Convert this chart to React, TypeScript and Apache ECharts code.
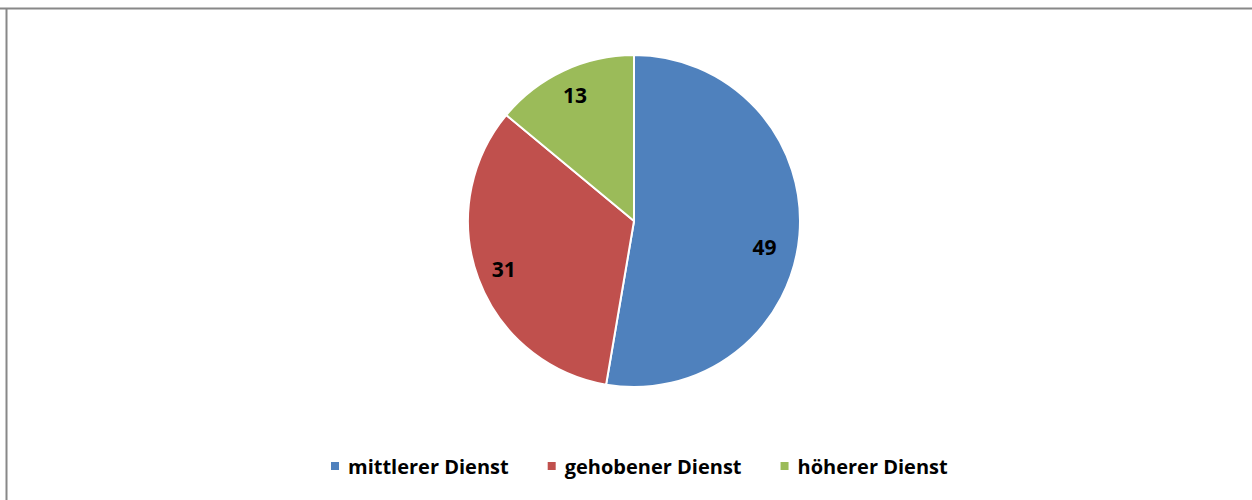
import React, { useEffect, useRef } from "react";
import * as echarts from "echarts";

const categories = ["mittlerer Dienst", "gehobener Dienst", "höherer Dienst"];
const values = [49, 31, 13];
const colors = ["#4F81BD", "#C0504D", "#9BBB59"];

export default function App() {
  const ref = useRef<HTMLDivElement>(null);
  useEffect(() => {
    const chart = echarts.init(ref.current!, null, { renderer: "svg" });
    const data = categories.map((name, i) => ({
      name,
      value: values[i],
      itemStyle: { color: colors[i] },
    }));
    const font = "'Open Sans', 'DejaVu Sans', sans-serif";
    chart.setOption({
      animation: false,
      backgroundColor: "#ffffff",
      legend: {
        data: categories,
        left: 324,
        top: 451,
        icon: "rect",
        itemWidth: 10,
        itemHeight: 10,
        itemGap: 37,
        selectedMode: false,
        textStyle: {
          fontFamily: font,
          fontWeight: "bold",
          fontSize: 20,
          color: "#000",
          padding: [0, 0, 0, 3],
        },
      },
      graphic: [
        {
          type: "line",
          shape: { x1: 0, y1: 8.5, x2: 1252, y2: 8.5 },
          style: { stroke: "#888", lineWidth: 2 },
          silent: true,
        },
        {
          type: "line",
          shape: { x1: 6.5, y1: 8, x2: 6.5, y2: 500 },
          style: { stroke: "#888", lineWidth: 2 },
          silent: true,
        },
      ],
      series: [
        {
          type: "pie",
          center: [634, 221],
          radius: [0, 166],
          startAngle: 90,
          clockwise: true,
          label: { show: false },
          labelLine: { show: false },
          itemStyle: { borderColor: "#fff", borderWidth: 2 },
          emphasis: { disabled: true },
          data,
        },
        {
          type: "pie",
          center: [634, 221],
          radius: [106, 166],
          startAngle: 90,
          clockwise: true,
          silent: true,
          itemStyle: { color: "transparent", borderWidth: 0 },
          label: {
            show: true,
            position: "inside",
            formatter: "{c}",
            fontFamily: font,
            fontWeight: "bold",
            fontSize: 21,
            color: "#000",
          },
          labelLine: { show: false },
          emphasis: { disabled: true },
          data: categories.map((name, i) => ({
            name,
            value: values[i],
            itemStyle: { color: "transparent" },
            label: i === 0 ? { offset: [-8, 14] } : undefined,
          })),
        },
      ],
    });
    return () => chart.dispose();
  }, []);
  return (
    <div
      ref={ref}
      style={{ position: "absolute", left: 0, top: 0, width: 1252, height: 500 }}
    />
  );
}
